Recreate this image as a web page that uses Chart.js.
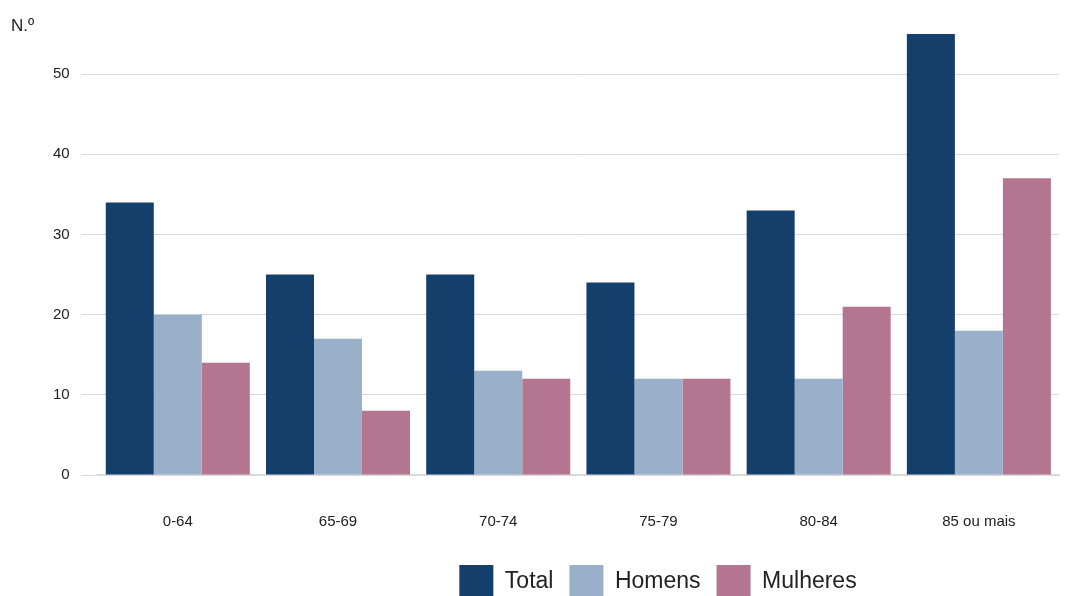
<!DOCTYPE html>
<html lang="en">
<head>
    <meta charset="UTF-8">
    <title>N.º por grupo etário</title>
    <script src="https://cdn.jsdelivr.net/npm/chart.js@4.4.0/dist/chart.umd.min.js"></script>
    <style>
        html, body { margin: 0; padding: 0; background: #fff; }
        #wrap { width: 1072px; height: 596px; }
    </style>
</head>
<body>
    <div id="wrap"><canvas id="chart"></canvas></div>

    <script>
        const categories = ['0-64', '65-69', '70-74', '75-79', '80-84', '85 ou mais'];
        const total = [34, 25, 25, 24, 33, 55];
        const homens = [20, 17, 13, 12, 12, 18];
        const mulheres = [14, 8, 12, 12, 21, 37];

        const FONT = '"Liberation Sans", Arial, sans-serif';

        // "N.º" unit label in the top-left corner
        const unitLabel = {
            id: 'unitLabel',
            afterDraw(chart) {
                const ctx = chart.ctx;
                ctx.save();
                ctx.font = '17px ' + FONT;
                ctx.fillStyle = '#222';
                ctx.textBaseline = 'alphabetic';
                ctx.fillText('N.º', 11, 31);
                ctx.restore();
            }
        };

        // the legend in the original sits right of centre
        const legendShift = {
            id: 'legendShift',
            afterLayout(chart) {
                chart.legend.left += 108;
                chart.legend.right += 108;
            }
        };

        new Chart(document.getElementById('chart'), {
            type: 'bar',
            data: {
                labels: categories,
                datasets: [
                    { label: 'Total', data: total, backgroundColor: '#143f6b' },
                    { label: 'Homens', data: homens, backgroundColor: '#9aafc9' },
                    { label: 'Mulheres', data: mulheres, backgroundColor: '#b3758f' }
                ]
            },
            options: {
                responsive: true,
                maintainAspectRatio: false,
                animation: false,
                layout: { padding: { top: 26, left: 41, right: 13, bottom: -13 } },
                datasets: {
                    bar: { categoryPercentage: 0.899, barPercentage: 1.0 }
                },
                scales: {
                    x: {
                        grid: { display: false },
                        border: { display: true, color: '#d9d9d9', width: 2 },
                        afterFit: scale => { scale.height -= 12; },
                        ticks: {
                            padding: 30,
                            color: '#222',
                            font: { family: FONT, size: 15 }
                        }
                    },
                    y: {
                        min: 0,
                        max: 56,
                        border: { display: false },
                        // tick marks extend the gridlines left of the first bar
                        grid: { color: '#d9d9d9', lineWidth: 1, drawTicks: true, tickLength: 16 },
                        afterBuildTicks: scale => {
                            scale.ticks = scale.ticks.filter(t => t.value % 10 === 0);
                        },
                        ticks: {
                            stepSize: 10,
                            padding: 12,
                            color: '#222',
                            font: { family: FONT, size: 15 }
                        }
                    }
                },
                plugins: {
                    tooltip: { enabled: false },
                    legend: {
                        position: 'bottom',
                        labels: {
                            boxWidth: 34,
                            boxHeight: 34,
                            padding: 16,
                            color: '#222',
                            font: { family: FONT, size: 23 }
                        }
                    }
                }
            },
            plugins: [unitLabel, legendShift]
        });
    </script>
</body>
</html>
